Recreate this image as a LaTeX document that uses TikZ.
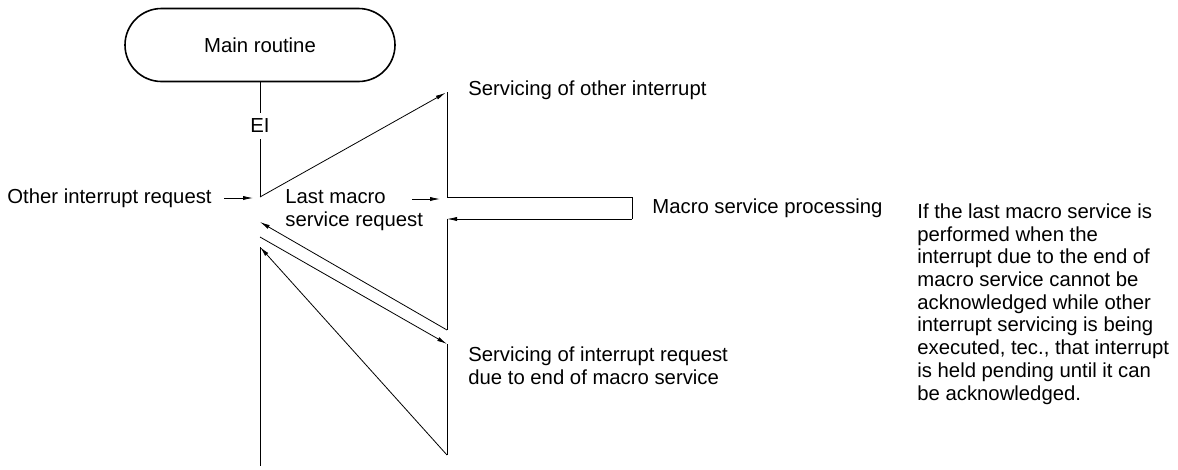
\documentclass[tikz,border=0pt]{standalone}
\usepackage{fontspec}
\setmainfont{Liberation Sans}
\usetikzlibrary{arrows.meta}
\begin{document}
\begin{tikzpicture}[x=1pt,y=-1pt, line width=0.8pt,
  txt/.style={font=\fontsize{20.3}{23.4}\selectfont, inner sep=0pt, align=left},
  note/.style={font=\fontsize{20.3}{22.7}\selectfont, inner sep=0pt, align=left},
  arr/.style={-{Latex[length=10pt,width=4.2pt]}}]
\useasboundingbox (0,0) rectangle (1178,469);
% main routine
\node[draw, line width=1.6pt, rounded corners=36.5pt, minimum width=270pt, minimum height=73pt, txt] (main) at (260,45) {Main routine};
\node[txt, inner ysep=6pt] (ei) at (260,126) {EI};
% junction points
\coordinate (j1) at (260,197);
\coordinate (s1top) at (447,92);
\coordinate (s1bot) at (447,197);
\coordinate (mr) at (632,197);
\coordinate (mr2) at (632,219);
\coordinate (s2top) at (447,219);
\coordinate (s2bot) at (447,330);
\coordinate (r1) at (260,222);
\coordinate (r2) at (260,237);
\coordinate (s3top) at (447,344);
\coordinate (s3bot) at (447,455);
\coordinate (r3) at (260,247);
\coordinate (bot) at (260,466);
\coordinate (la1) at (412,199);
% flow lines
\draw (main.south) -- (ei.north);
\draw (ei.south) -- (j1);
\draw[arr, shorten >=1.5pt] (j1) -- (s1top);
\draw (s1top) -- (s1bot) -- (mr) -- (mr2);
\draw[arr] (mr2) -- (s2top);
\draw (s2top) -- (s2bot);
\draw[arr] (s2bot) -- (r1);
\draw[arr] (r2) -- (s3top);
\draw (s3top) -- (s3bot);
\draw[arr] (s3bot) -- (r3);
\draw (r3) -- (bot);
% labels
\node[txt, anchor=west] (oir) at (7,198) {Other interrupt request};
\draw[arr, shorten <=12pt, shorten >=7pt] (oir.east) -- (oir.east -| j1);
\node[txt, anchor=west] (lm) at (285,210) {Last macro\\service request};
\draw[arr, shorten >=7pt] (la1) -- (la1 -| s1bot);
\node[txt, anchor=west] (msp) at (652,208) {Macro service processing};
\node[txt, anchor=west] (soi) at (468,90) {Servicing of other interrupt};
\node[txt, anchor=west] (sir) at (468,366) {Servicing of interrupt request\\due to end of macro service};
\node[note, anchor=west] (note) at (917,304) {If the last macro service is\\performed when the\\interrupt due to the end of\\macro service cannot be\\acknowledged while other\\interrupt servicing is being\\executed, tec., that interrupt\\is held pending until it can\\be acknowledged.};
\end{tikzpicture}
\end{document}
